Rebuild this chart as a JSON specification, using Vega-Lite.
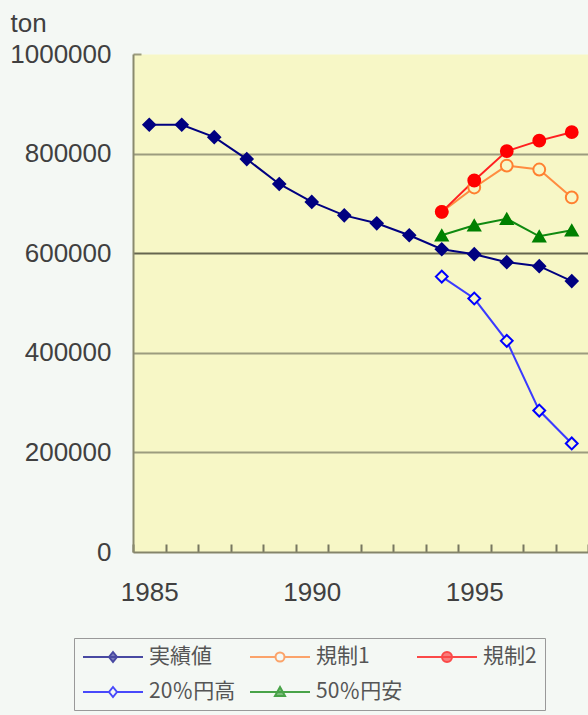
{
  "$schema": "https://vega.github.io/schema/vega-lite/v6.json",
  "width": 455,
  "height": 498,
  "autosize": "none",
  "padding": {"left": 133, "top": 54, "right": 0, "bottom": 163},
  "background": "#F4F8F4",
  "view": {"fill": "#F7F7C6", "stroke": "transparent"},
  "config": {
    "font": "Liberation Sans"
  },
  "data": {
    "values": [
      {"year": 1985, "series": "実績値", "value": 858000},
      {"year": 1986, "series": "実績値", "value": 858000},
      {"year": 1987, "series": "実績値", "value": 833000},
      {"year": 1988, "series": "実績値", "value": 789000},
      {"year": 1989, "series": "実績値", "value": 739000},
      {"year": 1990, "series": "実績値", "value": 703000},
      {"year": 1991, "series": "実績値", "value": 676000},
      {"year": 1992, "series": "実績値", "value": 660000},
      {"year": 1993, "series": "実績値", "value": 636000},
      {"year": 1994, "series": "実績値", "value": 608000},
      {"year": 1995, "series": "実績値", "value": 598000},
      {"year": 1996, "series": "実績値", "value": 582000},
      {"year": 1997, "series": "実績値", "value": 574000},
      {"year": 1998, "series": "実績値", "value": 544000},
      {"year": 1994, "series": "20％円高", "value": 553000},
      {"year": 1995, "series": "20％円高", "value": 509000},
      {"year": 1996, "series": "20％円高", "value": 424000},
      {"year": 1997, "series": "20％円高", "value": 284000},
      {"year": 1998, "series": "20％円高", "value": 218000},
      {"year": 1994, "series": "50％円安", "value": 636000},
      {"year": 1995, "series": "50％円安", "value": 656000},
      {"year": 1996, "series": "50％円安", "value": 669000},
      {"year": 1997, "series": "50％円安", "value": 634000},
      {"year": 1998, "series": "50％円安", "value": 646000},
      {"year": 1994, "series": "規制1", "value": 683000},
      {"year": 1995, "series": "規制1", "value": 732000},
      {"year": 1996, "series": "規制1", "value": 776000},
      {"year": 1997, "series": "規制1", "value": 768000},
      {"year": 1998, "series": "規制1", "value": 712000},
      {"year": 1994, "series": "規制2", "value": 683000},
      {"year": 1995, "series": "規制2", "value": 746000},
      {"year": 1996, "series": "規制2", "value": 805000},
      {"year": 1997, "series": "規制2", "value": 826000},
      {"year": 1998, "series": "規制2", "value": 843000}
    ]
  },
  "resolve": {"scale": {"shape": "independent", "fill": "independent", "stroke": "independent"}},
  "layer": [
    {
      "mark": {"type": "line", "strokeWidth": 2},
      "encoding": {
        "x": {
          "field": "year",
          "type": "ordinal",
          "scale": {"type": "band", "domain": [1985, 1986, 1987, 1988, 1989, 1990, 1991, 1992, 1993, 1994, 1995, 1996, 1997, 1998], "paddingInner": 0, "paddingOuter": 0},
          "axis": {
            "title": null,
            "tickBand": "extent",
            "ticks": false,
            "grid": true,
            "gridColor": "#777760",
            "gridWidth": 2,
            "gridDash": [0, 490, 8, 100],
            "domainColor": "#85856a",
            "domainWidth": 2,
            "labelAngle": 0,
            "labelOverlap": false,
            "labelExpr": "datum.value % 5 == 0 ? datum.label : ''",
            "labelFont": "Liberation Sans",
            "labelFontSize": 26,
            "labelColor": "#404040",
            "labelPadding": 27,
            "labelBaseline": "top"
          }
        },
        "y": {
          "field": "value",
          "type": "quantitative",
          "scale": {"domain": [0, 1000000], "nice": false},
          "axis": {
            "title": "ton",
            "titleAngle": 0,
            "titleAlign": "left",
            "titleBaseline": "top",
            "titleX": -123,
            "titleY": -44,
            "titleFont": "Liberation Sans",
            "titleFontSize": 26,
            "titleFontWeight": "normal",
            "titleColor": "#404040",
            "values": [0, 200000, 400000, 600000, 800000, 1000000],
            "format": "d",
            "labelFont": "Liberation Sans",
            "labelFontSize": 26,
            "labelColor": "#404040",
            "labelPadding": 22,
            "ticks": false,
            "domainColor": "#8a8a6e",
            "domainWidth": 2,
            "grid": true,
            "gridWidth": 2,
            "gridColor": {"condition": {"test": "datum.value == 600000", "value": "#66664f"}, "value": "#9c9c7e"},
            "gridDash": {"condition": {"test": "datum.value == 1000000", "value": [8, 2000]}, "value": []},
            "gridOpacity": {"condition": {"test": "datum.value == 0", "value": 0}, "value": 1}
          }
        },
        "color": {
          "field": "series",
          "type": "nominal",
          "scale": {"domain": ["実績値", "規制1", "規制2", "20％円高", "50％円安"], "range": ["#000080", "#FF8C40", "#FF2020", "#3a3aff", "#108a10"]},
          "legend": null
        }
      }
    },
    {
      "mark": {"type": "point", "filled": false, "strokeWidth": 2, "size": 140, "opacity": 1},
      "encoding": {
        "x": {"field": "year", "type": "ordinal"},
        "y": {"field": "value", "type": "quantitative"},
        "shape": {
          "field": "series",
          "type": "nominal",
          "scale": {"domain": ["実績値", "規制1", "規制2", "20％円高", "50％円安"], "range": ["diamond", "circle", "circle", "diamond", "triangle-up"]},
          "legend": null
        },
        "fill": {
          "field": "series",
          "type": "nominal",
          "scale": {"domain": ["実績値", "規制1", "規制2", "20％円高", "50％円安"], "range": ["#000080", "#F7F7C6", "#FF0000", "#F7F7C6", "#008000"]},
          "legend": null
        },
        "stroke": {
          "field": "series",
          "type": "nominal",
          "scale": {"domain": ["実績値", "規制1", "規制2", "20％円高", "50％円安"], "range": ["#000080", "#FF8030", "#FF0000", "#0000FF", "#008000"]},
          "legend": null
        }
      }
    },
    {
      "transform": [{"filter": "datum.value < 0"}],
      "mark": {"type": "point", "filled": false, "strokeWidth": 2},
      "encoding": {
        "shape": {
          "field": "series",
          "type": "nominal",
          "scale": {"domain": ["実績値", "規制1", "規制2", "20％円高", "50％円安"], "range": [
            "M-1,0H5M2,-0.5L2.4,0L2,0.5L1.6,0Z",
            "M-1,0H1.55M2.45,0H5M1.55,0A0.45,0.45 0 1,0 2.45,0A0.45,0.45 0 1,0 1.55,0Z",
            "M-1,0H5M1.5,0A0.5,0.5 0 1,0 2.5,0A0.5,0.5 0 1,0 1.5,0Z",
            "M-1,0H1.6M2.4,0H5M2,-0.5L2.4,0L2,0.5L1.6,0Z",
            "M-1,0H5M2,-0.5L2.5,0.4L1.5,0.4Z"
          ]},
          "legend": {
            "title": null,
            "orient": "none",
            "legendX": -59,
            "legendY": 584,
            "direction": "horizontal",
            "columns": 3,
            "columnPadding": 10,
            "rowPadding": 14,
            "padding": 8,
            "strokeColor": "#999999",
            "fillColor": "#F4F8F4",
            "symbolSize": 400,
            "symbolStrokeWidth": 2,
            "labelFont": "Noto Sans CJK JP",
            "labelFontSize": 21,
            "labelColor": "#555555",
            "labelOffset": 45
          }
        },
        "fill": {
          "field": "series",
          "type": "nominal",
          "scale": {"domain": ["実績値", "規制1", "規制2", "20％円高", "50％円安"], "range": ["#000080", "#F4F8F4", "#FF0000", "#F4F8F4", "#008000"]}
        },
        "stroke": {
          "field": "series",
          "type": "nominal",
          "scale": {"domain": ["実績値", "規制1", "規制2", "20％円高", "50％円安"], "range": ["#000080", "#FF8030", "#FF0000", "#0000FF", "#008000"]}
        }
      }
    }
  ]
}
